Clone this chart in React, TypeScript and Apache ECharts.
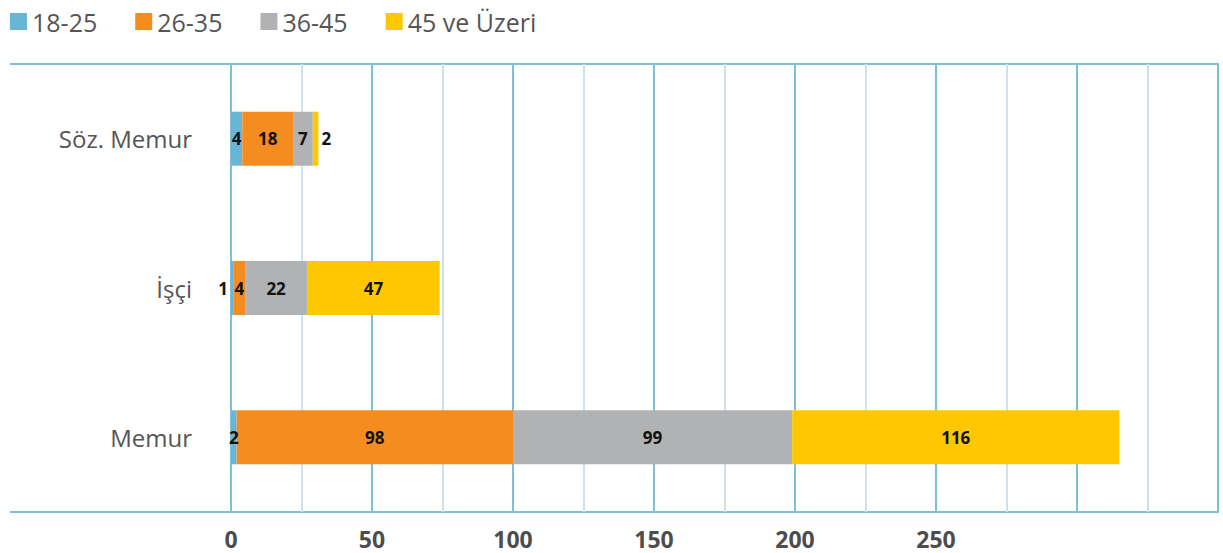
import React, { useEffect, useRef } from "react";
import * as echarts from "echarts";

const categories = ["Memur", "İşçi", "Söz. Memur"];
const seriesNames = ["18-25", "26-35", "36-45", "45 ve Üzeri"];
const s1825 = [2, 1, 4];
const s2635 = [98, 4, 18];
const s3645 = [99, 22, 7];
const s45 = [116, 47, 2];
const colors = ["#68b5d5", "#f48c20", "#b0b2b4", "#fec800"];
const xMin = 0;
const xMax = 350;
const xInterval = 25;

const FONT = "'Open Sans', sans-serif";

export default function App() {
  const ref = useRef<HTMLDivElement>(null);
  useEffect(() => {
    if (!ref.current) return;
    const chart = echarts.init(ref.current, null, { renderer: "svg" });
    const all = [s1825, s2635, s3645, s45];
    const series = all.map((vals, si) => ({
      name: seriesNames[si],
      type: "bar",
      stack: "total",
      barWidth: 54,
      itemStyle: { color: colors[si] },
      label: {
        show: true,
        position: "inside",
        color: "#111",
        fontWeight: "bold",
        fontSize: 17,
        fontFamily: FONT,
      },
      data: vals.map((v, ci) => {
        const item: any = { value: v };
        if (si === 0 && ci === 1) item.label = { position: "left", distance: 3 };
        if (si === 3 && ci === 2) item.label = { position: "right", distance: 3 };
        return item;
      }),
    }));
    chart.setOption({
      animation: false,
      textStyle: { fontFamily: FONT },
      legend: {
        left: 10,
        top: 9,
        itemWidth: 17,
        itemHeight: 17,
        itemGap: 38,
        padding: 0,
        icon: "rect",
        textStyle: { fontSize: 25, color: "#555", fontFamily: FONT },
        data: seriesNames,
      },
      grid: { left: 231, right: 5, top: 64, bottom: 41, containLabel: false },
      xAxis: {
        type: "value",
        min: xMin,
        max: xMax,
        interval: xInterval,
        axisLine: { show: false },
        axisTick: { show: false },
        axisLabel: {
          margin: 15,
          fontSize: 23,
          fontWeight: "bold",
          color: "#4d4d4d",
          fontFamily: FONT,
          formatter: (v: number) => (v % 50 === 0 && v <= 250 ? String(v) : ""),
        },
        splitLine: {
          show: true,
          lineStyle: { color: ["#7dbfd9", "#cde2ee"], width: 2 },
        },
      },
      yAxis: {
        type: "category",
        data: categories,
        axisLine: { show: false },
        axisTick: { show: false },
        axisLabel: { margin: 39, fontSize: 24, color: "#555", fontFamily: FONT },
        splitLine: { show: false },
      },
      graphic: [
        { type: "line", shape: { x1: 10, y1: 64, x2: 1219, y2: 64 }, style: { stroke: "#7dbfd9", lineWidth: 2 } },
        { type: "line", shape: { x1: 10, y1: 512, x2: 1219, y2: 512 }, style: { stroke: "#7dbfd9", lineWidth: 2 } },
      ],
      series,
    });
    return () => chart.dispose();
  }, []);
  return <div ref={ref} style={{ width: 1223, height: 553, position: "absolute", left: 0, top: 0 }} />;
}
